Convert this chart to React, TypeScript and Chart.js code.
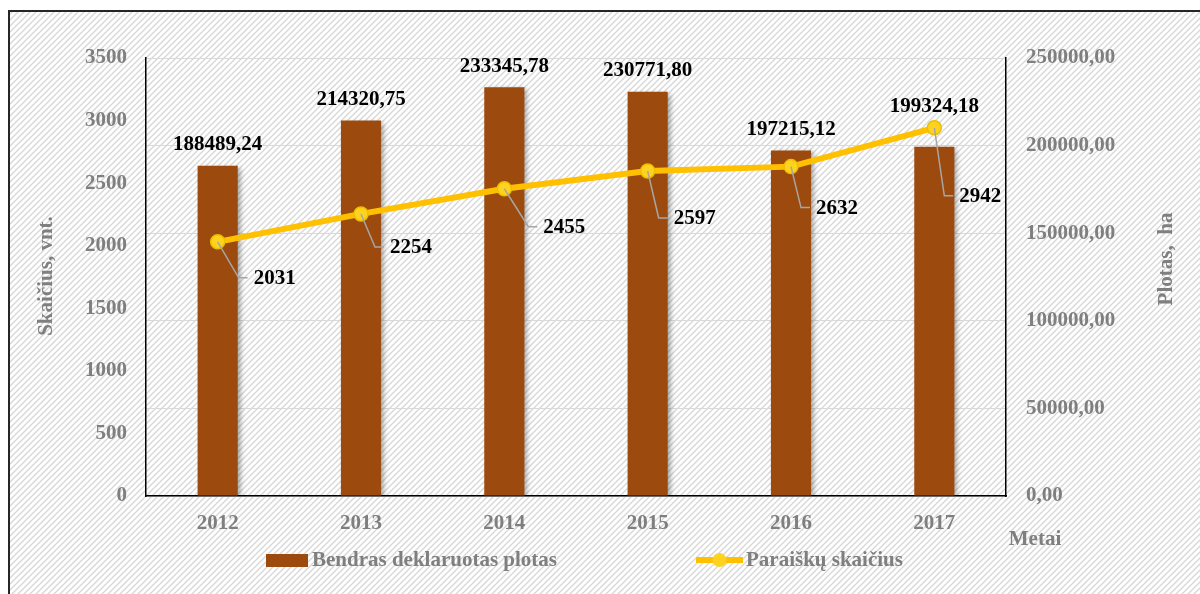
import React, { useEffect, useRef } from "react";
import { Chart, registerables } from "chart.js";

Chart.register(...registerables);

// ---- data ----
const years = ["2012", "2013", "2014", "2015", "2016", "2017"];
const plotas = [188489.24, 214320.75, 233345.78, 230771.8, 197215.12, 199324.18];
const paraiskos = [2031, 2254, 2455, 2597, 2632, 2942];
const leftMax = 3500;
const leftStep = 500;
const rightMax = 250000;
const rightStep = 50000;
const barLegend = "Bendras deklaruotas plotas";
const lineLegend = "Paraiškų skaičius";
const leftTitle = "Skaičius, vnt.";
const rightTitle = "Plotas,  ha";
const xTitle = "Metai";

// label offsets for the line's data labels (layout, px)
const lineLabelOffsets = [
  [36, 37],
  [29, 34],
  [39, 39],
  [26, 48],
  [25, 42],
  [25, 69],
];

const FONT = '"Liberation Serif", "Times New Roman", serif';
const BAR_COLOR = "#9C4A0E";
const LINE_COLOR = "#FFC000";
const POINT_FILL = "#FFD21F";
const GRAY = "#7f7f7f";

const fmt = (v: number) => v.toFixed(2).replace(".", ",");

const bgPlugin = {
  id: "bgHatch",
  beforeDraw(chart: any) {
    const { ctx, width, height } = chart;
    ctx.save();
    ctx.fillStyle = "#fff";
    ctx.fillRect(0, 0, width, height);
    const tile = document.createElement("canvas");
    tile.width = 6;
    tile.height = 6;
    const t = tile.getContext("2d")!;
    t.strokeStyle = "#d6d6d6";
    t.lineWidth = 1.3;
    t.beginPath();
    t.moveTo(0, 6);
    t.lineTo(6, 0);
    t.moveTo(-3, 3);
    t.lineTo(3, -3);
    t.moveTo(3, 9);
    t.lineTo(9, 3);
    t.stroke();
    const pat = ctx.createPattern(tile, "repeat");
    ctx.fillStyle = pat;
    ctx.fillRect(9, 12, width - 9, height - 12);
    ctx.strokeStyle = "#262626";
    ctx.lineWidth = 2;
    ctx.beginPath();
    ctx.moveTo(9, height);
    ctx.lineTo(9, 11);
    ctx.lineTo(width, 11);
    ctx.stroke();
    ctx.restore();
  },
};

const shadowPlugin = {
  id: "barShadow",
  beforeDatasetDraw(chart: any, args: any) {
    if (args.index !== 0) return;
    const ctx = chart.ctx;
    ctx.save();
    ctx.shadowColor = "rgba(0,0,0,0.35)";
    ctx.shadowBlur = 5;
    ctx.shadowOffsetX = 3;
    ctx.shadowOffsetY = 2;
  },
  afterDatasetDraw(chart: any, args: any) {
    if (args.index !== 0) return;
    chart.ctx.restore();
  },
};

const labelPlugin = {
  id: "dataLabels",
  afterDatasetsDraw(chart: any) {
    const { ctx } = chart;
    const barMeta = chart.getDatasetMeta(0);
    const lineMeta = chart.getDatasetMeta(1);
    ctx.save();
    ctx.font = `bold 21px ${FONT}`;
    ctx.fillStyle = "#000";
    ctx.textBaseline = "middle";
    // line labels with leader lines
    lineMeta.data.forEach((pt: any, i: number) => {
      const [dx, dy] = lineLabelOffsets[i];
      const lx = pt.x + dx;
      const ly = pt.y + dy;
      ctx.strokeStyle = "#a6a6a6";
      ctx.lineWidth = 1.5;
      ctx.beginPath();
      ctx.moveTo(pt.x, pt.y);
      ctx.lineTo(lx - 15, ly - 1);
      ctx.lineTo(lx - 6, ly - 1);
      ctx.stroke();
      ctx.textAlign = "left";
      ctx.fillText(String(paraiskos[i]), lx, ly);
    });
    // bar labels
    barMeta.data.forEach((bar: any, i: number) => {
      const pt = lineMeta.data[i];
      const top = Math.min(bar.y, pt.y);
      ctx.textAlign = "center";
      ctx.fillText(fmt(plotas[i]), bar.x, top - 21);
    });
    ctx.restore();
  },
  afterDraw(chart: any) {
    const { ctx } = chart;
    ctx.save();
    ctx.font = `bold 21px ${FONT}`;
    ctx.fillStyle = GRAY;
    ctx.textBaseline = "middle";
    ctx.textAlign = "center";
    // axis titles
    ctx.save();
    ctx.translate(47, 276);
    ctx.rotate(-Math.PI / 2);
    ctx.fillText(leftTitle, 0, 0);
    ctx.restore();
    ctx.save();
    ctx.translate(1167, 259);
    ctx.rotate(-Math.PI / 2);
    ctx.fillText(rightTitle, 0, 0);
    ctx.restore();
    ctx.fillText(xTitle, 1035, 540);
    // legend
    ctx.fillStyle = BAR_COLOR;
    ctx.fillRect(266, 554, 42, 13);
    ctx.fillStyle = GRAY;
    ctx.textAlign = "left";
    ctx.fillText(barLegend, 312, 561);
    ctx.strokeStyle = LINE_COLOR;
    ctx.lineWidth = 6;
    ctx.beginPath();
    ctx.moveTo(696, 560);
    ctx.lineTo(743, 560);
    ctx.stroke();
    ctx.fillStyle = POINT_FILL;
    ctx.beginPath();
    ctx.arc(719.5, 560, 7, 0, Math.PI * 2);
    ctx.fill();
    ctx.fillStyle = GRAY;
    ctx.fillText(lineLegend, 746, 561);
    ctx.restore();
  },
};

export default function App() {
  const ref = useRef<HTMLCanvasElement | null>(null);
  useEffect(() => {
    if (!ref.current) return;
    const tickFont = { family: FONT, size: 21, weight: "bold" as const };
    const chart = new Chart(ref.current, {
      type: "bar",
      data: {
        labels: years,
        datasets: [
          {
            type: "bar",
            label: barLegend,
            data: plotas,
            yAxisID: "y1",
            backgroundColor: BAR_COLOR,
            barPercentage: 0.28,
            categoryPercentage: 1,
            order: 1,
          } as any,
          {
            type: "line",
            label: lineLegend,
            data: paraiskos,
            yAxisID: "y",
            borderColor: LINE_COLOR,
            borderWidth: 6,
            tension: 0,
            pointRadius: 7,
            pointHoverRadius: 7,
            pointBackgroundColor: POINT_FILL,
            pointBorderColor: "#EBC000",
            pointBorderWidth: 1.5,
            order: 0,
          } as any,
        ],
      },
      options: {
        responsive: false,
        animation: false,
        events: [],
        layout: { padding: { top: 58, left: 0, right: 0, bottom: 0 } },
        plugins: {
          legend: { display: false },
          tooltip: { enabled: false },
        },
        scales: {
          x: {
            grid: { display: true, drawOnChartArea: false, drawTicks: false },
            border: { display: true, color: "#000", width: 1.5 },
            ticks: { font: tickFont, color: GRAY, padding: 15 },
            afterFit: (s: any) => {
              s.height = 98;
            },
          },
          y: {
            position: "left",
            min: 0,
            max: leftMax,
            grid: { display: true, drawOnChartArea: false, drawTicks: false },
            border: { display: true, color: "#000", width: 1.5 },
            ticks: {
              stepSize: leftStep,
              font: tickFont,
              color: GRAY,
              padding: 19,
              callback: (v: any) => String(v),
            },
            afterFit: (s: any) => {
              s.width = 146;
            },
          },
          y1: {
            position: "right",
            min: 0,
            max: rightMax,
            grid: { display: true, color: "#d9d9d9", lineWidth: 1, drawTicks: false },
            border: { display: true, color: "#000", width: 1.5 },
            ticks: {
              stepSize: rightStep,
              font: tickFont,
              color: GRAY,
              padding: 20,
              callback: (v: any) => fmt(Number(v)),
            },
            afterFit: (s: any) => {
              s.width = 194;
            },
          },
        },
      } as any,
      plugins: [bgPlugin, shadowPlugin, labelPlugin],
    });
    return () => chart.destroy();
  }, []);
  return (
    <div style={{ position: "absolute", left: 0, top: 0, width: 1200, height: 594 }}>
      <canvas ref={ref} width={1200} height={594} style={{ display: "block", width: 1200, height: 594 }} />
    </div>
  );
}
